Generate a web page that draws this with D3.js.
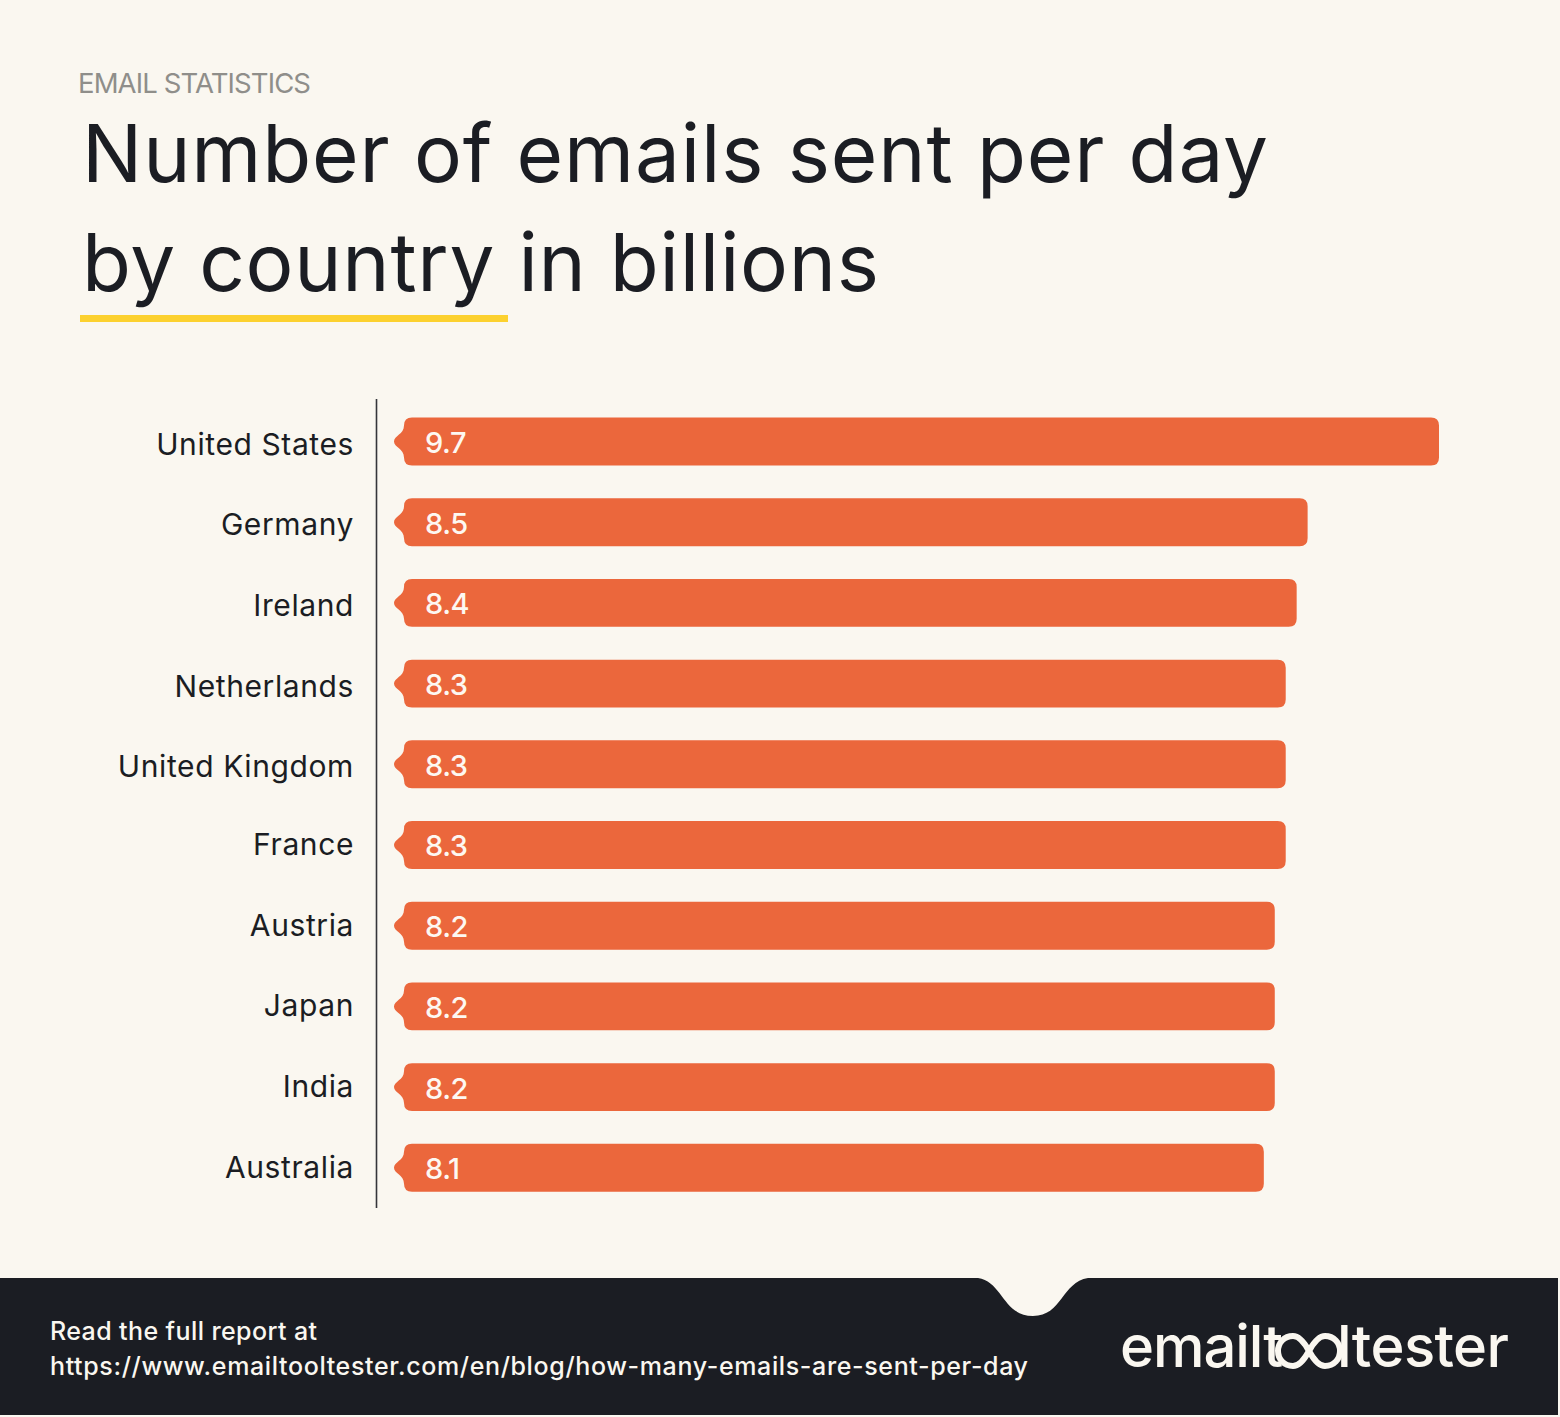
<!DOCTYPE html>
<html>
<head>
<meta charset="utf-8">
<script src="https://cdn.jsdelivr.net/npm/d3@7"></script>
<style>
html, body { margin: 0; padding: 0; background: #faf7f0; }
svg { display: block; }
text { font-family: Inter, "Noto Sans", sans-serif; }
</style>
</head>
<body>
<svg id="chart" width="1560" height="1417"></svg>
<script>
var countries = ['United States','Germany','Ireland','Netherlands','United Kingdom','France','Austria','Japan','India','Australia'];
var emails = [9.7,8.5,8.4,8.3,8.3,8.3,8.2,8.2,8.2,8.1];

var eyebrow = 'EMAIL STATISTICS';
var titleLines = ['Number of emails sent per day','by country in billions'];
var footerLines = ['Read the full report at','https://www.emailtooltester.com/en/blog/how-many-emails-are-sent-per-day'];

var ink = '#1b1d23';
var paper = '#faf7f0';
var orange = '#eb673c';

var svg = d3.select('#chart');

svg.append('rect').attr('width', 1560).attr('height', 1417).attr('fill', paper);

// squeeze a text to a known width, keeps the glyphs and only moves the spacing
var fit = function(sel, w) {
    sel.each(function() {
        var n = this.getNumberOfChars();
        var cur = this.getComputedTextLength();
        d3.select(this).style('letter-spacing', ((w - cur) / (n - 1)) + 'px');
    });
    return sel;
}

// header
fit(svg.append('text').attr('x', 78).attr('y', 93).attr('font-size', 27.5).attr('fill', '#8f8e8a').text(eyebrow), 233);
fit(svg.append('text').attr('x', 82).attr('y', 182).attr('font-size', 80).attr('font-weight', 400).attr('fill', ink).text(titleLines[0]), 1186);
fit(svg.append('text').attr('x', 82).attr('y', 291).attr('font-size', 80).attr('font-weight', 400).attr('fill', ink).text(titleLines[1]), 797);
svg.append('rect').attr('x', 80).attr('y', 315).attr('width', 428).attr('height', 7).attr('fill', '#fcd12f');

// scales
var x = d3.scaleLinear().domain([0, 9.7]).range([377, 1439]);
var y = d3.scaleBand().domain(countries).range([401.4, 1207.9]).paddingInner(0.406).paddingOuter(0.2);

var barPath = function(d) {
    var x0 = 404, x1 = x(d.v), t = y(d.c), b = t + y.bandwidth(), m = t + y.bandwidth() / 2, r = 8;
    return 'M' + (x0 + r) + ',' + t
        + 'L' + (x1 - r) + ',' + t
        + 'Q' + x1 + ',' + t + ' ' + x1 + ',' + (t + r)
        + 'L' + x1 + ',' + (b - r)
        + 'Q' + x1 + ',' + b + ' ' + (x1 - r) + ',' + b
        + 'L' + (x0 + r) + ',' + b
        + 'Q' + x0 + ',' + b + ' ' + x0 + ',' + (b - r)
        + 'C' + x0 + ',' + (m + 7) + ' ' + (x0 - 10) + ',' + (m + 6) + ' ' + (x0 - 10) + ',' + m
        + 'C' + (x0 - 10) + ',' + (m - 6) + ' ' + x0 + ',' + (m - 7) + ' ' + x0 + ',' + (t + r)
        + 'Q' + x0 + ',' + t + ' ' + (x0 + r) + ',' + t + 'Z';
}

var data = countries.map(function(c, i) { return {c: c, v: emails[i]}; });

svg.selectAll('path.bar').data(data).enter().append('path')
    .attr('class', 'bar')
    .attr('d', barPath)
    .attr('fill', orange);

svg.selectAll('text.val').data(data).enter().append('text')
    .attr('class', 'val')
    .attr('x', 425)
    .attr('y', function(d) { return y(d.c) + y.bandwidth() / 2 + 11.5; })
    .attr('font-size', 29)
    .attr('font-weight', 500)
    .attr('letter-spacing', '-0.4px')
    .attr('fill', '#fdf8f2')
    .text(function(d) { return d.v.toFixed(1); });

// category axis
var axis = svg.append('g')
    .attr('transform', 'translate(377,0)')
    .call(d3.axisLeft(y).tickSize(0).tickPadding(23));
axis.select('.domain').remove();
axis.selectAll('text')
    .attr('dy', '0.42em')
    // lower labels sit a little higher than their bars in the original
    .attr('y', function(d, i) { return i < 5 ? 0.4 : -2.8; })
    .style('font-family', 'Inter, sans-serif')
    .style('font-size', '30px')
    .style('letter-spacing', '0.6px')
    .attr('fill', ink);
svg.append('line').attr('x1', 376.5).attr('x2', 376.5).attr('y1', 399).attr('y2', 1208)
    .attr('stroke', '#34353a').attr('stroke-width', 1.6);

// footer band with the notch
svg.append('path')
    .attr('d', 'M0,1278 L978,1278 C1003,1282 1003,1316 1033,1316 C1062,1316 1062,1282 1088,1278 L1558,1278 L1558,1415 L0,1415 Z')
    .attr('fill', ink);

fit(svg.append('text').attr('x', 50).attr('y', 1340).attr('font-size', 25).attr('font-weight', 500).attr('fill', paper).text(footerLines[0]), 267);
fit(svg.append('text').attr('x', 50).attr('y', 1375).attr('font-size', 25).attr('font-weight', 500).attr('fill', paper).text(footerLines[1]), 978);

// logo: wordmark with the infinity loop in the middle
fit(svg.append('text').attr('x', 1120).attr('y', 1367).attr('font-size', 58).attr('font-weight', 500).attr('fill', paper).text('emailt'), 163);
fit(svg.append('text').attr('x', 1337).attr('y', 1367).attr('font-size', 58).attr('font-weight', 500).attr('fill', paper).text('ltester'), 172);
svg.append('path')
    .attr('d', 'M1309,1351 C1303,1340 1297,1336 1293,1336 C1284,1336 1278,1343 1278,1351 C1278,1359 1284,1366 1293,1366 C1297,1366 1303,1362 1309,1351 C1315,1340 1321,1336 1325,1336 C1334,1336 1340,1343 1340,1351 C1340,1359 1334,1366 1325,1366 C1321,1366 1315,1362 1309,1351 Z')
    .attr('fill', 'none')
    .attr('stroke', paper)
    .attr('stroke-width', 6);
</script>
</body>
</html>
